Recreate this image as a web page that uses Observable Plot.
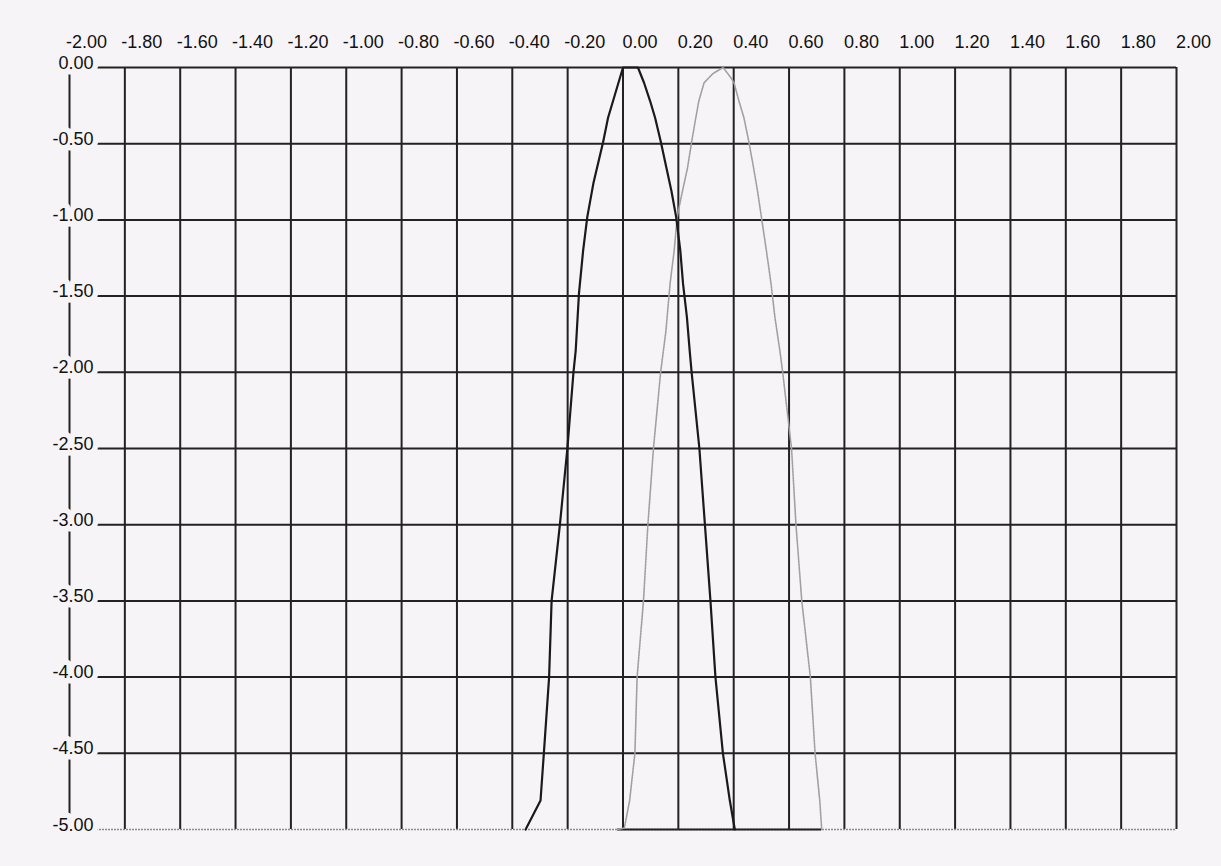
<!DOCTYPE html>
<html>
<head>
<meta charset="utf-8">
<script src="https://cdn.jsdelivr.net/npm/d3@7"></script>
<script src="https://cdn.jsdelivr.net/npm/@observablehq/plot@0.6"></script>
<style>
  html, body { margin: 0; padding: 0; background: #f7f4f7; }
  #chart { width: 1221px; height: 866px; }
</style>
</head>
<body>
<div id="chart"></div>
<script>
const xTicks = [-2.0, -1.8, -1.6, -1.4, -1.2, -1.0, -0.8, -0.6, -0.4, -0.2, 0.0, 0.2, 0.4, 0.6, 0.8, 1.0, 1.2, 1.4, 1.6, 1.8, 2.0];
const yTicks = [0.0, -0.5, -1.0, -1.5, -2.0, -2.5, -3.0, -3.5, -4.0, -4.5, -5.0];

// dark (solid) curve
const darkX = [-0.352, -0.298, -0.286, -0.267, -0.258, -0.228, -0.201, -0.179, -0.171, -0.159, -0.144, -0.129, -0.107, -0.072, -0.054, -0.036, 0.000,
               0.054, 0.076, 0.098, 0.116, 0.137, 0.157, 0.175, 0.192, 0.207, 0.217, 0.231, 0.241, 0.248, 0.276, 0.296, 0.316, 0.334, 0.361, 0.386, 0.404];
const darkY = [-5.00, -4.81, -4.50, -4.00, -3.50, -3.00, -2.50, -2.00, -1.86, -1.48, -1.20, -0.98, -0.76, -0.49, -0.33, -0.22, 0.00,
               0.00, -0.10, -0.22, -0.33, -0.49, -0.66, -0.81, -0.98, -1.20, -1.42, -1.64, -1.86, -2.00, -2.50, -3.00, -3.50, -4.00, -4.50, -4.81, -5.00];

// light grey (dotted) curve
const grayX = [-0.020, 0.005, 0.024, 0.043, 0.051, 0.074, 0.090, 0.110, 0.136, 0.155, 0.170, 0.185, 0.196, 0.208, 0.215, 0.233, 0.248, 0.263, 0.274, 0.293, 0.325, 0.362,
               0.391, 0.401, 0.419, 0.437, 0.455, 0.472, 0.486, 0.500, 0.518, 0.535, 0.549, 0.567, 0.577, 0.609, 0.625, 0.646, 0.677, 0.694, 0.711, 0.718];
const grayY = [-5.00, -4.99, -4.81, -4.50, -4.00, -3.50, -3.00, -2.50, -2.00, -1.73, -1.42, -1.20, -0.98, -0.87, -0.81, -0.66, -0.49, -0.33, -0.22, -0.10, -0.04, 0.00,
               -0.07, -0.10, -0.22, -0.33, -0.49, -0.66, -0.81, -0.98, -1.20, -1.42, -1.64, -1.86, -2.00, -2.50, -3.00, -3.50, -4.00, -4.50, -4.81, -5.00];

const dark = darkX.map((x, i) => ({x, y: darkY[i]}));
const gray = grayX.map((x, i) => ({x, y: grayY[i]}));
const fmt = d => d.toFixed(2);
const bg = "#f7f4f7";
const ink = "#222222";

const chart = Plot.plot({
  width: 1221,
  height: 866,
  marginLeft: 69,
  marginRight: 45,
  marginTop: 67,
  marginBottom: 37,
  x: {domain: [-2, 2], axis: null},
  y: {domain: [-5, 0], axis: null},
  style: {
    background: bg,
    fontFamily: "'Liberation Sans Narrow', 'Liberation Sans', Arial, sans-serif",
    fontSize: "18px",
    color: ink,
    overflow: "visible"
  },
  marks: [
    Plot.ruleX(xTicks, {x: d => d, stroke: ink, strokeWidth: 2}),
    Plot.ruleY(yTicks.filter(d => d !== -5), {y: d => d, stroke: ink, strokeWidth: 2}),
    Plot.ruleY([-5], {y: d => d, stroke: "#8c8c8c", strokeWidth: 1.5, strokeDasharray: "2,1"}),
    Plot.ruleY([-5], {y: d => d, x1: grayX[0], x2: grayX[grayX.length - 1], stroke: ink, strokeWidth: 2}),
    Plot.line(gray, {x: "x", y: "y", stroke: "#a0a0a0", strokeWidth: 1.6, strokeDasharray: "2,1"}),
    Plot.line(dark, {x: "x", y: "y", stroke: "#1a1a1a", strokeWidth: 2.2}),
    Plot.text(xTicks, {x: d => d, frameAnchor: "top", text: fmt, dx: 17, dy: -20, lineAnchor: "bottom", fill: "#111"}),
    Plot.text(yTicks, {x: -2, y: d => d, text: fmt, textAnchor: "end", dx: 24, dy: 1, lineAnchor: "bottom",
                       fill: "#111", stroke: bg, strokeWidth: 11, strokeLinejoin: "round", paintOrder: "stroke"})
  ]
});
document.getElementById("chart").appendChild(chart);
</script>
</body>
</html>
